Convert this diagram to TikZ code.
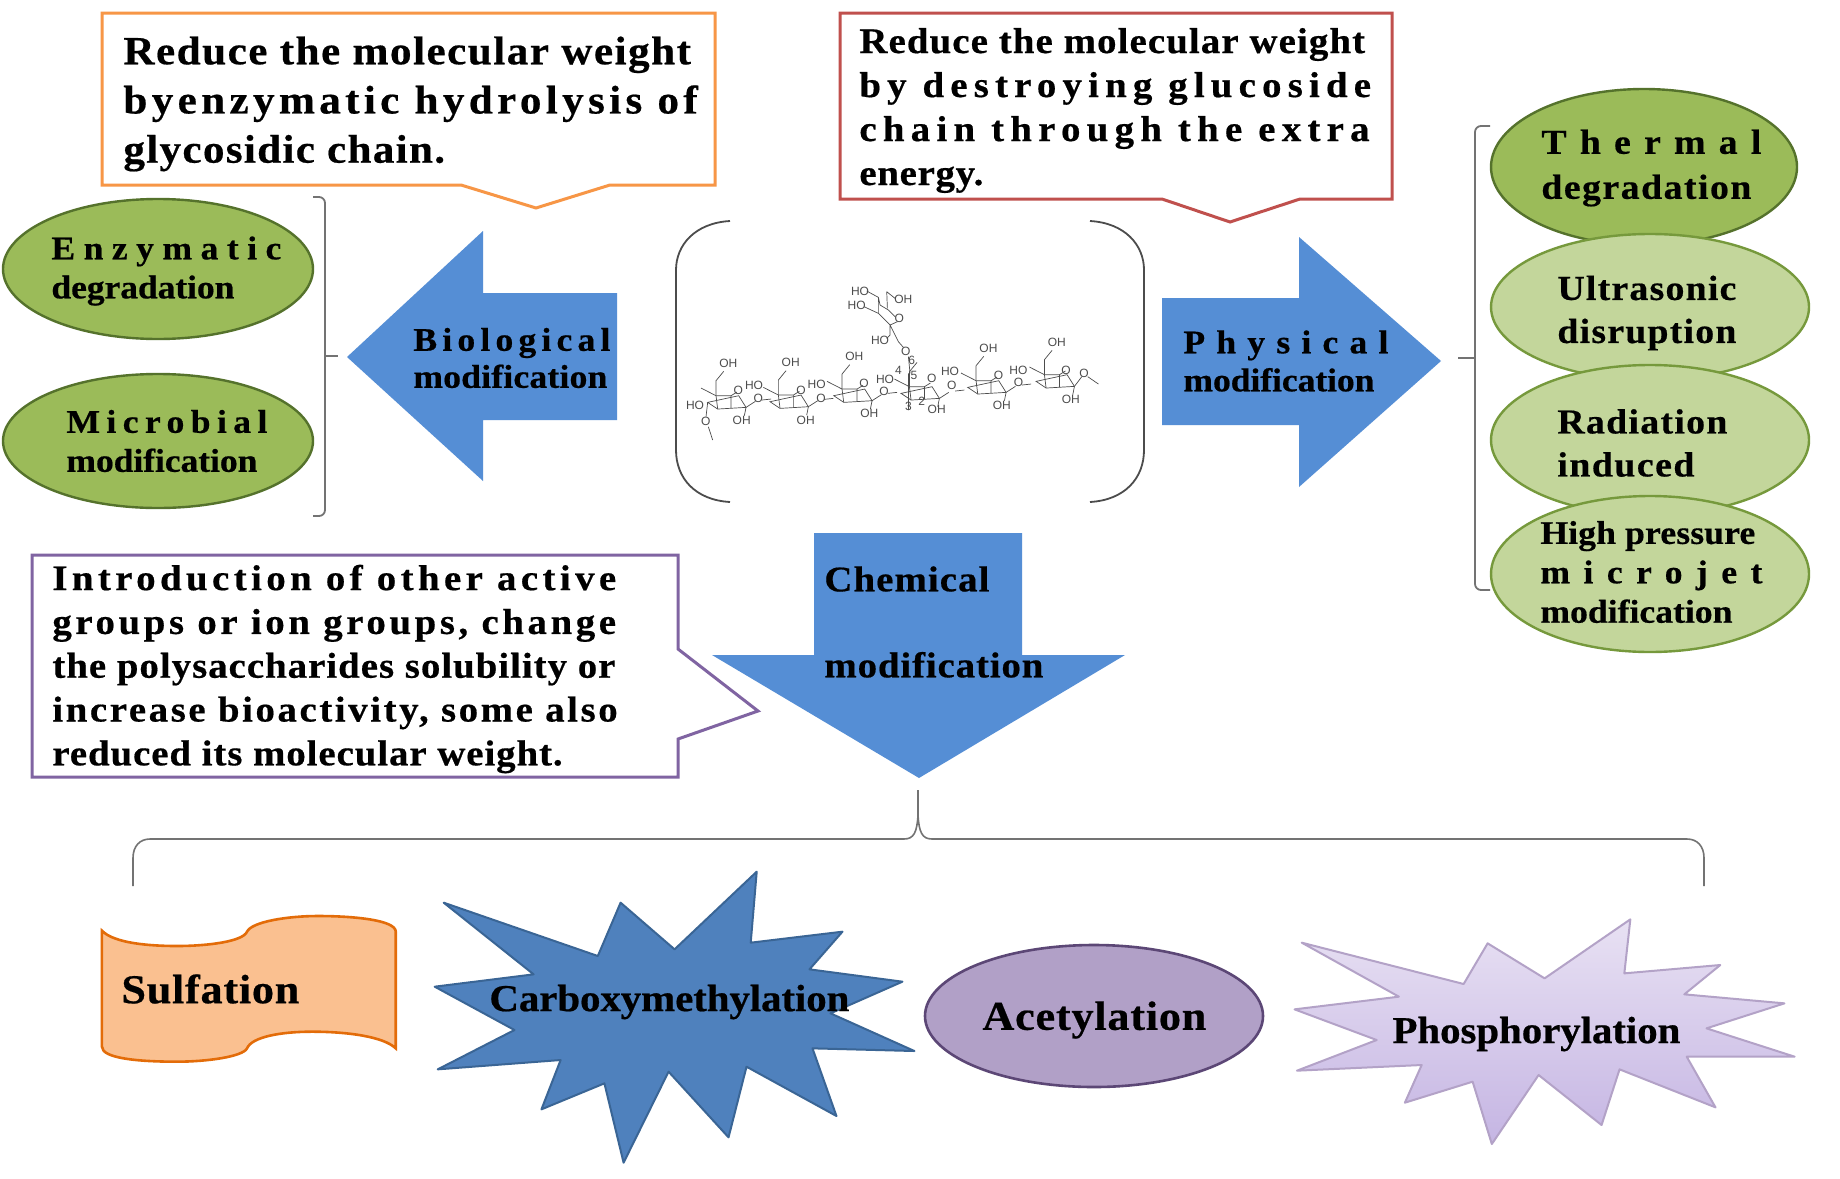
\documentclass[tikz,border=0pt]{standalone}
\usepackage{fontspec}
\usepackage{xstring}
\setmainfont{Liberation Serif}[BoldFeatures={FakeStretch=1.08,FakeBold=0.5}]
\newfontfamily\molfont{Liberation Sans}
\usetikzlibrary{shapes.geometric}
\definecolor{arrowblue}{HTML}{558ED5}
\definecolor{darkgreen}{HTML}{9BBB59}
\definecolor{darkgreenb}{HTML}{55722C}
\definecolor{lightgreen}{HTML}{C3D69B}
\definecolor{lightgreenb}{HTML}{76993C}
\definecolor{starblue}{HTML}{4F81BD}
\definecolor{starblueb}{HTML}{3A6595}
\definecolor{peach}{HTML}{FAC090}
\definecolor{peachb}{HTML}{E36C09}
\definecolor{acet}{HTML}{B1A0C7}
\definecolor{acetb}{HTML}{5C4776}
\definecolor{phosb}{HTML}{B3A2C7}
\definecolor{phostop}{HTML}{E8E1F3}
\definecolor{phosbot}{HTML}{C5B5E3}
\definecolor{orangeb}{HTML}{F79646}
\definecolor{redb}{HTML}{C0504D}
\definecolor{purpleb}{HTML}{8064A2}
\newcommand\fitl[2]{\setbox0=\hbox{#2}\edef\wdv{\the\wd0}\edef\emv{\the\dimexpr1em\relax}\StrLen{#2}[\nch]\pgfmathsetmacro\pct{((#1)*0.5-\wdv)/(\nch-1)/\emv*100}{\addfontfeature{LetterSpace=\pct}#2}}
\newcommand\sz[2]{\fontsize{#1}{#2}\selectfont\bfseries}
\tikzset{
 lbl/.style={anchor=west,inner sep=0pt,align=left,text=black},
 callout/.style={draw=#1,line width=1.5pt,fill=white,line join=miter},
 oval/.style={ellipse,inner sep=0pt,line width=1.2pt},
 darkoval/.style={oval,draw=darkgreenb,fill=darkgreen},
 lightoval/.style={oval,draw=lightgreenb,fill=lightgreen},
 bracketline/.style={draw=black!55,line width=0.9pt,rounded corners=3pt},
 parenline/.style={draw=black!70,line width=0.9pt},
 bigarrow/.style={fill=arrowblue,draw=none},
 mol/.style={draw=black!70,line width=0.35pt},
 mollabel/.style={inner sep=0pt,text=black!70,font=\molfont\fontsize{6}{6}\selectfont},
 chair/.pic={
  \draw[mol] (-60,-28)--(-15,-5)--(30,-5)--(48,-16) (53,-5)--(75,30)--(-10,35)--(-40,15)--cycle;
  \draw[mol] (-15,-5)--(-15,-50)--(8,-78);
  \draw[mol] (-15,-5)--(-10,35) (30,-5)--(30,32);
  \draw[mol] (75,30)--(70,55);
 },
 chainlink/.pic={
  \draw[mol] (75,30)--(103,12) (122,8)--(150,5);
 }
}
\begin{document}
\begin{tikzpicture}[x=0.5pt,y=-0.5pt]
\useasboundingbox[fill=white] (0,0) rectangle (1840,1178);

% callouts
\draw[callout=orangeb] (102,13)--(715,13)--(715,185)--(610,185)--(536,208)--(461,185)--(102,185)--cycle;
\node[lbl,font=\sz{20}{24.6}] (t1) at (123,104) {\fitl{572}{Reduce the molecular weight}\\\fitl{583}{byenzymatic hydrolysis of}\\\fitl{323}{glycosidic chain.}};

\draw[callout=redb] (840,13)--(1392,13)--(1392,199)--(1300,199)--(1230,222)--(1162,199)--(840,199)--cycle;
\node[lbl,font=\sz{18}{22}] (t2) at (859,110.5) {\fitl{509}{Reduce the molecular weight}\\\fitl{524}{by destroying glucoside}\\\fitl{529}{chain through the extra}\\\fitl{124}{energy.}};

\draw[callout=purpleb] (32,555)--(678,555)--(678,649)--(758,711)--(678,739)--(678,777)--(32,777)--cycle;
\node[lbl,font=\sz{18}{21.9}] (t3) at (52,669) {\fitl{577}{Introduction of other active}\\\fitl{578}{groups or ion groups, change}\\\fitl{566}{the polysaccharides solubility or}\\\fitl{573}{increase bioactivity, some also}\\\fitl{513}{reduced its molecular weight.}};

% left ovals
\node[darkoval,minimum width=155pt,minimum height=70pt] (enz) at (158,269) {};
\node[darkoval,minimum width=155pt,minimum height=67pt] (mic) at (158,441) {};
\node[lbl,font=\sz{16.5}{19.5}] (enzt) at (51,271) {\fitl{230}{Enzymatic}\\\fitl{183}{degradation}};
\node[lbl,font=\sz{16.5}{19.5}] (mict) at (66,441) {\fitl{201}{Microbial}\\\fitl{191}{modification}};

% left bracket
\coordinate (lb1) at (313,197); \coordinate (lb2) at (313,516); \coordinate (lbt) at (338,356);
\draw[bracketline] (lb1) -- (325,197) -- (325,516) -- (lb2);
\draw[bracketline] (325,356) -- (lbt);

% arrows
\draw[bigarrow] (347,357)--(483,231)--(483,293)--(617,293)--(617,420)--(483,420)--(483,481)--cycle;
\node[lbl,font=\sz{16.5}{18.5}] (bio) at (413,358) {\fitl{197}{Biological}\\\fitl{194}{modification}};
\draw[bigarrow] (1441,361)--(1299,237)--(1299,298)--(1162,298)--(1162,425)--(1299,425)--(1299,487)--cycle;
\node[lbl,font=\sz{16.5}{19}] (phy) at (1183,361) {\fitl{205}{Physical}\\\fitl{191}{modification}};
\draw[bigarrow] (814,533)--(1022,533)--(1022,655)--(1125,655)--(919,778)--(712,655)--(814,655)--cycle;
\node[lbl,font=\sz{18}{43}] (chem) at (824,622) {\fitl{165}{Chemical}\\\fitl{219}{modification}};

% parentheses
\draw[parenline] (730,221) .. controls (695,223) and (676,245) .. (676,270) -- (676,450) .. controls (676,478) and (695,500) .. (730,502);
\draw[parenline] (1090,221) .. controls (1125,223) and (1144,245) .. (1144,270) -- (1144,450) .. controls (1144,478) and (1125,500) .. (1090,502);

% molecule
\begin{scope}[shift={(660,210)},x=0.1667pt,y=-0.1667pt]
 \foreach \cx/\cy in {183/562,370/560,561/542,763/535,963/517,1168/499}
   \path (\cx,\cy) pic {chair};
 \foreach \cx/\cy in {183/562,370/560,561/542,763/535,963/517}
   \path (\cx,\cy) pic {chainlink};
 \draw[mol] (143,577)--(138,620) (145,650)--(158,690) (1243,529)--(1265,500) (1283,500)--(1315,522);
 \draw[mol] (620,243)--(655,262)--(660,285)--(685,300)--(705,320) (712,335)--(690,345)--(655,310)--(612,290) (655,262)--(655,310) (680,245)--(682,295) (680,245)--(705,265) (690,345)--(690,375)--(680,385) (690,345)--(715,395)--(730,412) (745,440)--(750,490) (745,490)--(745,600);
 \foreach \i/\lx/\ly/\lt in {1/205/460/OH,2/105/585/HO,3/245/630/OH,4/137/635/O,5/392/458/OH,6/282/525/HO,7/437/630/OH,8/295/565/O,9/423/540/O,
  10/235/540/O,11/583/440/OH,12/470/522/HO,13/628/610/OH,14/483/565/O,15/612/520/O,16/675/507/HO,17/672/545/O,18/815/505/O,19/830/597/OH,
  20/985/415/OH,21/870/483/HO,22/875/527/O,23/1015/497/O,24/1025/587/OH,25/1190/397/OH,26/1075/480/HO,27/1075/518/O,28/1218/480/O,29/1232/567/OH,30/1272/490/O,
  31/600/243/HO,32/730/268/OH,33/590/287/HO,34/718/325/O,35/660/390/HO,36/737/425/O,37/755/452/6,38/715/482/4,39/762/495/5,40/745/590/3,41/785/575/2}
   \node[mollabel] (ml\i) at (\lx,\ly) {\lt};
\end{scope}

% right ovals
\node[darkoval,minimum width=153pt,minimum height=78pt] (the) at (1644,167) {};
\node[lightoval,minimum width=159pt,minimum height=73pt] (ult) at (1650,307) {};
\node[lightoval,minimum width=159pt,minimum height=75pt] (rad) at (1650,440) {};
\node[lightoval,minimum width=159pt,minimum height=78pt] (hig) at (1650,574) {};
\node[lbl,font=\sz{17.5}{22.5}] (thet) at (1541,168) {\fitl{220}{Thermal}\\\fitl{210}{degradation}};
\node[lbl,font=\sz{17.5}{21.5}] (ultt) at (1557,313) {\fitl{179}{Ultrasonic}\\\fitl{179}{disruption}};
\node[lbl,font=\sz{17.5}{21.5}] (radt) at (1557,443) {\fitl{170}{Radiation}\\\fitl{137}{induced}};
\node[lbl,font=\sz{16.5}{19.7}] (higt) at (1540,572) {\fitl{215}{High pressure}\\\fitl{222}{microjet}\\\fitl{192}{modification}};

% right bracket
\coordinate (rb1) at (1490,126); \coordinate (rb2) at (1490,590); \coordinate (rbt) at (1458,358);
\draw[bracketline] (rb1) -- (1475,126) -- (1475,590) -- (rb2);
\draw[bracketline] (1475,358) -- (rbt);

% bottom brace
\coordinate (bbl) at (133,886); \coordinate (bbr) at (1704,886); \coordinate (bbt) at (918,790);
\draw[draw=black!55,line width=0.8pt] (bbl) -- (133,858) .. controls (133,846) and (140,839) .. (150,839) -- (904,839) .. controls (914,839) and (917,832) .. (918,815) -- (bbt);
\draw[draw=black!55,line width=0.8pt] (bbr) -- (1704,858) .. controls (1704,846) and (1697,839) .. (1687,839) -- (932,839) .. controls (922,839) and (919,832) .. (918,815);

% sulfation
\begin{scope}[shift={(0,860)},x=0.2998pt,y=-0.16667pt]
 \draw[fill=peach,draw=peachb,line width=1.3pt] (170,212) .. controls (190,250) and (250,258) .. (295,258) .. controls (345,258) and (405,245) .. (412,215) .. controls (420,185) and (480,168) .. (530,168) .. controls (590,168) and (660,180) .. (660,215) -- (660,565) .. controls (640,530) and (580,515) .. (520,515) .. controls (470,515) and (420,530) .. (412,565) .. controls (405,590) and (345,605) .. (295,605) .. controls (230,605) and (170,595) .. (170,560) -- cycle;
 \draw[fill=starblue,draw=starblueb,line width=1pt,line join=round] (740,128)--(997,288)--(1035,128)--(1125,268)--(1262,35)--(1252,248)--(1405,215)--(1350,328)--(1505,365)--(1385,460)--(1525,573)--(1355,565)--(1395,768)--(1245,620)--(1215,832)--(1115,635)--(1040,908)--(1008,670)--(903,748)--(935,600)--(730,628)--(858,510)--(725,380)--(890,343)--cycle;
\end{scope}
\begin{scope}[shift={(900,860)},x=0.2998pt,y=-0.16667pt]
 \path[top color=phostop,bottom color=phosbot,draw=phosb,line width=1pt,line join=round] (670,248)--(940,372)--(980,250)--(1075,355)--(1218,178)--(1208,340)--(1368,315)--(1308,403)--(1475,430)--(1345,505)--(1492,590)--(1312,590)--(1360,742)--(1200,628)--(1170,795)--(1065,645)--(987,852)--(955,665)--(842,728)--(870,615)--(662,632)--(795,540)--(658,448)--(832,410)--cycle;
\end{scope}
\node[ellipse,inner sep=0pt,minimum width=169pt,minimum height=71pt,fill=acet,draw=acetb,line width=1.3pt] (ace) at (1094,1016) {};
\node[lbl,font=\sz{20.5}{24}] (sul) at (121,989) {\fitl{178}{Sulfation}};
\node[lbl,font=\sz{19}{23}] (car) at (489,1002) {\fitl{360}{Carboxymethylation}};
\node[lbl,font=\sz{20.5}{24}] (acet) at (982,1020) {\fitl{224}{Acetylation}};
\node[lbl,font=\sz{19}{23}] (pho) at (1392,1034) {\fitl{288}{Phosphorylation}};
\end{tikzpicture}
\end{document}
